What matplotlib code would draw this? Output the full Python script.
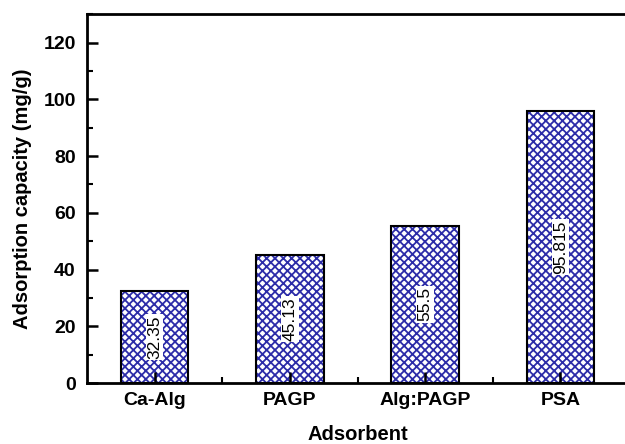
import numpy as np
import matplotlib
matplotlib.use("Agg")
import matplotlib.pyplot as plt
from matplotlib.ticker import MultipleLocator, FixedLocator

plt.rcParams['font.family'] = ['Liberation Sans', 'DejaVu Sans']
plt.rcParams['hatch.linewidth'] = 1.3

# data
adsorbents = ['Ca-Alg', 'PAGP', 'Alg:PAGP', 'PSA']
capacity = [32.35, 45.13, 55.5, 95.815]
value_labels = ['32.35', '45.13', '55.5', '95.815']

x = np.arange(1, len(adsorbents) + 1)

fig = plt.figure(figsize=(6.25, 4.44), dpi=100)
ax = fig.add_axes([0.139, 0.137, 0.866, 0.831])

# hatched fill, then black outline on top
ax.bar(x, capacity, width=0.5, color='white', edgecolor='#2c2ca8',
       hatch='xxxx', linewidth=0)
ax.bar(x, capacity, width=0.5, fill=False, edgecolor='black', linewidth=1.5)

for xi, v, lab in zip(x, capacity, value_labels):
    ax.text(xi, v / 2, lab, rotation=90, ha='center', va='center',
            fontsize=12.5, color='black',
            bbox=dict(facecolor='white', edgecolor='none', pad=1))

ax.set_xlim(0.5, 4.5)
ax.set_ylim(0, 130)
ax.set_xticks(x)
ax.set_xticklabels(adsorbents, fontsize=14, fontweight='bold')
ax.xaxis.set_minor_locator(FixedLocator([1.5, 2.5, 3.5]))
ax.yaxis.set_major_locator(MultipleLocator(20))
ax.yaxis.set_minor_locator(MultipleLocator(10))
for lab in ax.get_yticklabels():
    lab.set_fontweight('bold')
    lab.set_fontsize(14)

ax.tick_params(which='both', direction='in', top=False, right=False)
ax.tick_params(which='major', length=8, width=1.8)
ax.tick_params(axis='y', which='major', pad=8)
ax.tick_params(axis='x', which='major', pad=6)
ax.tick_params(which='minor', length=4, width=1.5)
for s in ax.spines.values():
    s.set_linewidth(2)

ax.set_xlabel('Adsorbent', fontsize=14.5, fontweight='bold', labelpad=12)
ax.set_ylabel('Adsorption capacity (mg/g)', fontsize=14.5, fontweight='bold',
              labelpad=8)

fig.savefig('out.png', dpi=100)
